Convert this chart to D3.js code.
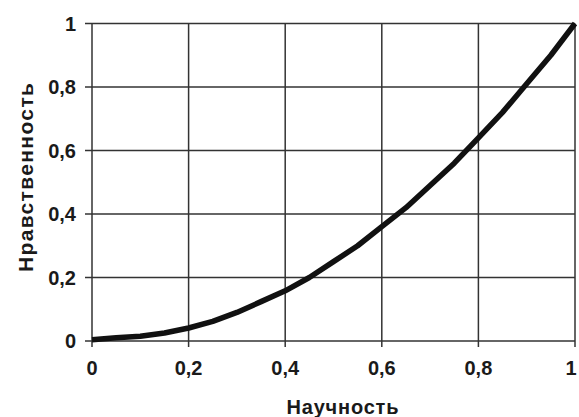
<!DOCTYPE html>
<html>
<head>
<meta charset="utf-8">
<script src="https://cdn.jsdelivr.net/npm/d3@7"></script>
<style>
    body { margin: 0; background: #fff; }
    text { font-family: "Liberation Sans", Arial, sans-serif; font-weight: bold; fill: #1a1a1a; }
</style>
</head>
<body>
<div id="chart"></div>
<script>
'use strict';

// values
var sciValues = [0, 0.05, 0.1, 0.15, 0.2, 0.25, 0.3, 0.35, 0.4, 0.45, 0.5, 0.55, 0.6, 0.65, 0.7, 0.75, 0.8, 0.85, 0.9, 0.95, 1];
var moralValues = [0.004, 0.01, 0.015, 0.025, 0.041, 0.062, 0.09, 0.124, 0.158, 0.2, 0.25, 0.3, 0.36, 0.42, 0.49, 0.56, 0.64, 0.72, 0.81, 0.9, 1];
var tickValues = [0, 0.2, 0.4, 0.6, 0.8, 1];
var xTitle = 'Научность';
var yTitle = 'Нравственность';

var width = 579, height = 417;
var margin = {top: 23.5, right: 4, bottom: 76, left: 92};

var svg = d3.select('#chart').append('svg')
    .attr('width', width)
    .attr('height', height);

var x = d3.scaleLinear().domain([0, 1]).range([margin.left, width - margin.right]);
var y = d3.scaleLinear().domain([0, 1]).range([height - margin.bottom, margin.top]);

var fmt = function(d) { return String(d).replace('.', ','); };

//grid lines
var grid = svg.append('g').attr('stroke', '#333').attr('stroke-width', 1.5);

grid.selectAll('.vline')
    .data(tickValues)
    .enter().append('line')
    .attr('x1', (d) => x(d)).attr('x2', (d) => x(d))
    .attr('y1', y(1)).attr('y2', y(0) + 6);

grid.selectAll('.hline')
    .data(tickValues)
    .enter().append('line')
    .attr('x1', x(0) - 7).attr('x2', x(1))
    .attr('y1', (d) => y(d)).attr('y2', (d) => y(d));

//tick labels
svg.append('g').selectAll('text')
    .data(tickValues)
    .enter().append('text')
    .attr('x', 76)
    .attr('y', (d) => y(d))
    .attr('dy', '0.35em')
    .attr('text-anchor', 'end')
    .attr('font-size', 20)
    .text(fmt);

//last label would spill over the right edge, so keep it inside
svg.append('g').selectAll('text')
    .data(tickValues)
    .enter().append('text')
    .attr('x', (d) => Math.min(x(d), width - 8))
    .attr('y', 368)
    .attr('dy', '0.35em')
    .attr('text-anchor', 'middle')
    .attr('font-size', 20)
    .text(fmt);

//axis titles
svg.append('text')
    .attr('x', (x(0) + x(1)) / 2 + 9)
    .attr('y', 414)
    .attr('text-anchor', 'middle')
    .attr('font-size', 20)
    .attr('textLength', 112)
    .text(xTitle);

svg.append('text')
    .attr('transform', 'translate(33,177.5) rotate(-90)')
    .attr('text-anchor', 'middle')
    .attr('font-size', 21)
    .attr('textLength', 189)
    .text(yTitle);

//the curve
var line = d3.line()
    .x((d, i) => x(sciValues[i]))
    .y((d) => y(d));

svg.append('path')
    .datum(moralValues)
    .attr('d', line)
    .attr('fill', 'none')
    .attr('stroke', '#111')
    .attr('stroke-width', 5.5)
    .attr('stroke-linejoin', 'round');
</script>
</body>
</html>
